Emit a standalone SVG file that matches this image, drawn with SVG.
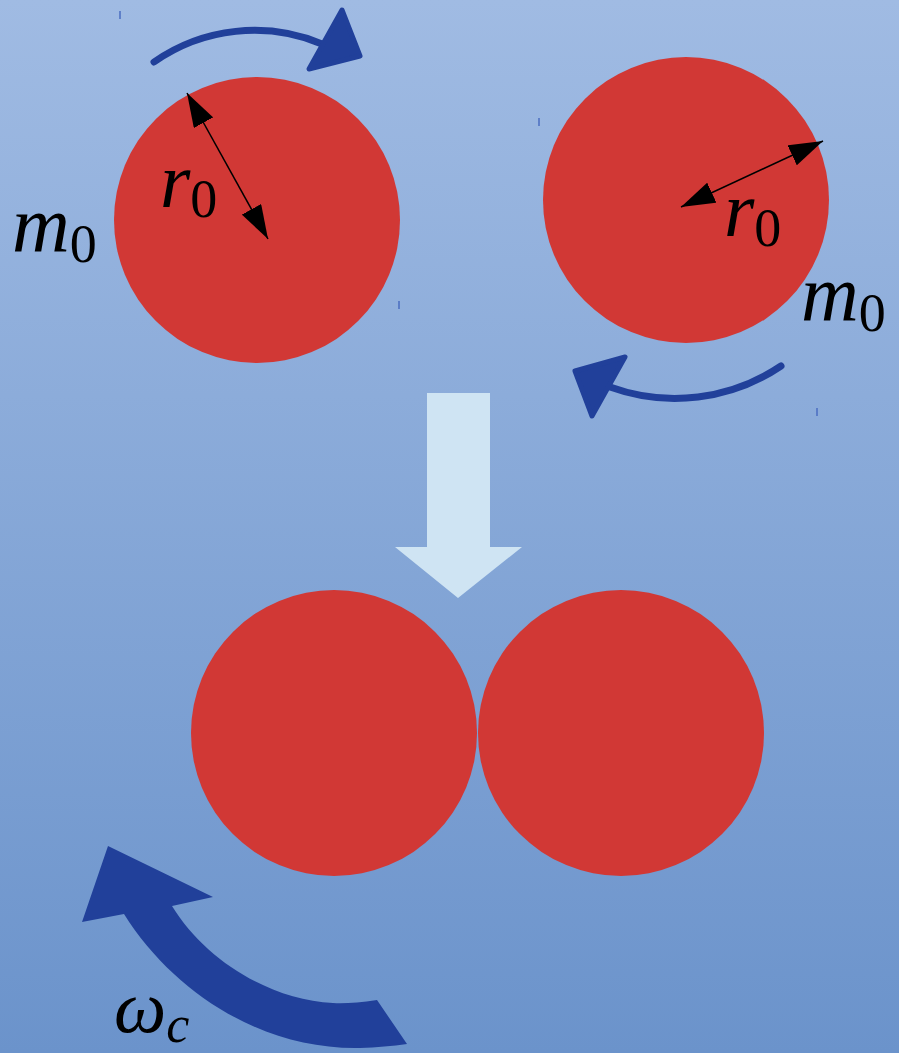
<svg xmlns="http://www.w3.org/2000/svg" width="899" height="1053" viewBox="0 0 899 1053">
<defs>
<linearGradient id="bg" x1="0" y1="0" x2="0" y2="1">
<stop offset="0" stop-color="#a0bbe3"/>
<stop offset="1" stop-color="#6b93cb"/>
</linearGradient>
<marker id="ah" viewBox="0 0 34 22" refX="34" refY="11" markerWidth="34" markerHeight="22" markerUnits="userSpaceOnUse" orient="auto-start-reverse">
<path d="M0,0 L34,11 L0,22 Z" fill="#000"/>
</marker>
<style>
.ball{fill:#d13835}
.rot{fill:none;stroke:#21409a;stroke-width:7;stroke-linecap:round}
.head{fill:#21409a;stroke:#21409a;stroke-width:5;stroke-linejoin:round}
.rad{stroke:#000;stroke-width:1.5;fill:none}
.tick{stroke:#4a6cc0;stroke-width:1.5}
.lbl{fill:#000}
.it{font-style:italic}
</style>
</defs>
<rect width="899" height="1053" fill="url(#bg)"/>
<g id="ticks">
<line class="tick" x1="120" y1="11" x2="120" y2="19"/>
<line class="tick" x1="539" y1="118" x2="539" y2="126"/>
<line class="tick" x1="399" y1="301" x2="399" y2="309"/>
<line class="tick" x1="817" y1="408" x2="817" y2="416"/>
</g>
<g id="ball1">
<circle class="ball" cx="257" cy="220" r="143"/>
<line class="rad" x1="187" y1="93" x2="268" y2="239" marker-start="url(#ah)" marker-end="url(#ah)"/>
<text class="lbl" font-family="'Liberation Serif', 'DejaVu Serif', serif" x="160" y="207" font-size="78"><tspan class="it">r</tspan><tspan font-size="54" dy="10">0</tspan></text>
<text class="lbl" font-family="'Liberation Serif', 'DejaVu Serif', serif" x="12" y="251" font-size="80"><tspan class="it">m</tspan><tspan font-size="54" dy="11">0</tspan></text>
</g>
<g id="ball2">
<circle class="ball" cx="686" cy="200" r="143"/>
<line class="rad" x1="681" y1="207" x2="823" y2="141" marker-start="url(#ah)" marker-end="url(#ah)"/>
<text class="lbl" font-family="'Liberation Serif', 'DejaVu Serif', serif" x="724" y="236" font-size="78"><tspan class="it">r</tspan><tspan font-size="54" dy="10">0</tspan></text>
<text class="lbl" font-family="'Liberation Serif', 'DejaVu Serif', serif" x="801" y="320" font-size="80"><tspan class="it">m</tspan><tspan font-size="54" dy="11">0</tspan></text>
</g>
<g id="spin1">
<path class="rot" d="M154,62 A175,175 0 0 1 322,44"/>
<polygon class="head" points="342,10 360,56 309,69"/>
</g>
<g id="spin2">
<path class="rot" d="M781,366 A190,190 0 0 1 610,387"/>
<polygon class="head" points="575,371 592,416 625,357"/>
</g>
<g id="merge-arrow">
<polygon points="427,393 490,393 490,547 522,547 458,598 395,547 427,547" fill="#cfe4f3"/>
</g>
<g id="ball3">
<circle class="ball" cx="334" cy="733" r="143"/>
</g>
<g id="ball4">
<circle class="ball" cx="621" cy="733" r="143"/>
</g>
<g id="omega">
<path d="M124,914 C175,995 265,1050 360,1048 Q385,1047 407,1044 L377,1000 Q350,1004 333,1003 C270,1000 205,960 172,906 L213,897 L108,846 L82,922 Z" fill="#21409a"/>
<text class="lbl" font-family="'Liberation Serif', 'DejaVu Serif', serif" x="114" y="1032" font-size="74"><tspan class="it">ω</tspan><tspan class="it" font-size="52" dy="10">c</tspan></text>
</g>
</svg>
